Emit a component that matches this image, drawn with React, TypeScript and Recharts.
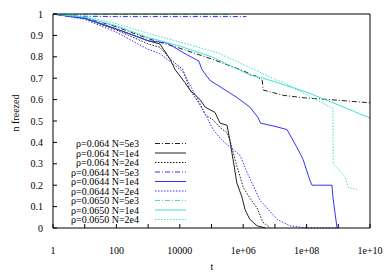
import { Line, LineChart, XAxis, YAxis } from "recharts";

const W = 390;
const H = 273;
const FONT = "'Liberation Serif', 'Times New Roman', Times, serif";

const xTicks = [1, 1e1, 1e2, 1e3, 1e4, 1e5, 1e6, 1e7, 1e8, 1e9, 1e10];
const xTickLabels = ["1", "", "100", "", "10000", "", "1e+06", "", "1e+08", "", "1e+10"];
const yTicks = [0, 0.1, 0.2, 0.3, 0.4, 0.5, 0.6, 0.7, 0.8, 0.9, 1];
const yTickLabels = ["0", "0.1", "0.2", "0.3", "0.4", "0.5", "0.6", "0.7", "0.8", "0.9", "1"];

// log10(t) and fraction frozen
const r064n5e3LogT = [0, 1, 2, 3, 4, 5, 6, 6.28, 6.4, 6.6, 6.63, 7.26, 8, 8.74, 10];
const r064n5e3N = [1, 0.985, 0.94, 0.885, 0.84, 0.79, 0.735, 0.715, 0.71, 0.69, 0.645, 0.62, 0.607, 0.6, 0.585];

const r064n1e4LogT = [0, 1, 2, 3, 3.37, 3.69, 3.85, 4.16, 4.32, 4.64, 4.8, 5.11, 5.27, 5.49, 5.58, 5.68, 5.8, 5.96, 6.06, 6.21, 6.44, 6.7];
const r064n1e4N = [1, 0.98, 0.93, 0.875, 0.86, 0.79, 0.74, 0.68, 0.645, 0.6, 0.565, 0.54, 0.49, 0.48, 0.41, 0.32, 0.21, 0.145, 0.085, 0.04, 0.01, 0];

const r064n2e4LogT = [0, 1, 2, 3, 3.37, 3.69, 4.1, 4.32, 4.64, 4.8, 5.05, 5.27, 5.49, 5.58, 5.8, 6.0, 6.21, 6.44, 6.62, 6.85];
const r064n2e4N = [1, 0.98, 0.925, 0.86, 0.845, 0.79, 0.74, 0.645, 0.575, 0.53, 0.505, 0.47, 0.445, 0.41, 0.29, 0.19, 0.14, 0.093, 0.028, 0];

const r0644n5e3LogT = [0, 0.5, 2, 4, 6.1];
const r0644n5e3N = [1, 0.99, 0.988, 0.988, 0.988];

const r0644n1e4LogT = [0, 1, 2, 3, 3.6, 4.1, 4.6, 4.7, 4.95, 5.27, 5.8, 6.21, 6.45, 6.55, 7.0, 7.38, 7.57, 7.79, 7.89, 8.11, 8.17, 8.8, 8.83, 8.96];
const r0644n1e4N = [1, 0.98, 0.93, 0.875, 0.865, 0.82, 0.78, 0.74, 0.69, 0.66, 0.61, 0.565, 0.52, 0.49, 0.475, 0.46, 0.41, 0.35, 0.32, 0.22, 0.2, 0.2, 0.145, 0];

const r0644n2e4LogT = [0, 1, 2, 3, 3.37, 4.1, 4.64, 5.05, 5.33, 5.65, 5.9, 6.12, 6.53, 7.07, 7.48, 8.0, 9.0];
const r0644n2e4N = [1, 0.975, 0.915, 0.835, 0.815, 0.73, 0.58, 0.46, 0.41, 0.37, 0.34, 0.26, 0.13, 0.04, 0.01, 0, 0];

const r0650n5e3LogT = [0, 5.6];
const r0650n5e3N = [0.998, 0.997];

const r0650n1e4LogT = [0, 1, 2, 3, 4, 5, 6, 6.21, 6.62, 7.07, 8, 9, 10];
const r0650n1e4N = [1, 0.985, 0.945, 0.89, 0.85, 0.8, 0.73, 0.715, 0.7, 0.68, 0.635, 0.575, 0.514];

const r0650n2e4LogT = [0, 1, 2, 3, 4.1, 5.17, 6.21, 7.07, 7.2, 8.74, 8.83, 8.84, 8.99, 9.21, 9.31, 9.59];
const r0650n2e4N = [1, 0.99, 0.955, 0.91, 0.865, 0.82, 0.75, 0.69, 0.685, 0.565, 0.56, 0.3, 0.276, 0.24, 0.19, 0.18];

const BLACK = "#222";
const BLUE = "#3333ff";
const CYAN = "#44e0cf";
const DASHDOT = "5 2 1 2";
const DOTTED = "1.5 1.5";

const toPoints = (logT: number[], n: number[]) => logT.map((l, i) => ({ t: 10 ** l, v: n[i] }));

const series = [
  { name: "ρ=0.064 N=5e3", data: toPoints(r064n5e3LogT, r064n5e3N), color: BLACK, dash: DASHDOT },
  { name: "ρ=0.064 N=1e4", data: toPoints(r064n1e4LogT, r064n1e4N), color: BLACK, dash: undefined },
  { name: "ρ=0.064 N=2e4", data: toPoints(r064n2e4LogT, r064n2e4N), color: BLACK, dash: DOTTED },
  { name: "ρ=0.0644 N=5e3", data: toPoints(r0644n5e3LogT, r0644n5e3N), color: BLUE, dash: DASHDOT },
  { name: "ρ=0.0644 N=1e4", data: toPoints(r0644n1e4LogT, r0644n1e4N), color: BLUE, dash: undefined },
  { name: "ρ=0.0644 N=2e4", data: toPoints(r0644n2e4LogT, r0644n2e4N), color: BLUE, dash: DOTTED },
  { name: "ρ=0.0650 N=5e3", data: toPoints(r0650n5e3LogT, r0650n5e3N), color: CYAN, dash: DASHDOT },
  { name: "ρ=0.0650 N=1e4", data: toPoints(r0650n1e4LogT, r0650n1e4N), color: CYAN, dash: undefined },
  { name: "ρ=0.0650 N=2e4", data: toPoints(r0650n2e4LogT, r0650n2e4N), color: CYAN, dash: DOTTED },
];

const tickStyle = { fill: "#000", fontSize: 10, style: { fontFamily: FONT } };

export default function App() {
  return (
    <div
      style={{
        position: "absolute",
        left: 0,
        top: 0,
        width: W,
        height: H,
        background: "#fff",
        fontFamily: FONT,
      }}
    >
      <LineChart width={W} height={H} margin={{ top: 0, right: 0, bottom: 0, left: 0 }} style={{ fontFamily: FONT }}>
        <XAxis
          xAxisId="b"
          dataKey="t"
          type="number"
          scale="log"
          domain={[1, 1e10]}
          allowDataOverflow
          ticks={xTicks}
          tickFormatter={(v: number) => xTickLabels[xTicks.indexOf(v)] ?? ""}
          tickSize={-4}
          tickMargin={23}
          height={45}
          stroke="#000"
          tick={tickStyle}
          interval={0}
        />
        <XAxis
          xAxisId="top"
          orientation="top"
          type="number"
          scale="log"
          domain={[1, 1e10]}
          allowDataOverflow
          ticks={xTicks}
          tickFormatter={() => ""}
          tickSize={-4}
          height={14}
          stroke="#000"
          interval={0}
        />
        <YAxis
          yAxisId="l"
          type="number"
          domain={[0, 1]}
          ticks={yTicks}
          tickFormatter={(v: number) => yTickLabels[yTicks.indexOf(v)] ?? ""}
          tickSize={-4}
          tickMargin={14}
          width={53}
          stroke="#000"
          tick={tickStyle}
          interval={0}
        />
        <YAxis
          yAxisId="r"
          orientation="right"
          type="number"
          domain={[0, 1]}
          ticks={yTicks}
          tickFormatter={() => ""}
          tickSize={-4}
          width={20}
          stroke="#000"
          interval={0}
        />
        {series.map((s) => (
          <Line
            key={s.name}
            xAxisId="b"
            yAxisId="l"
            data={s.data}
            dataKey="v"
            type="linear"
            stroke={s.color}
            strokeWidth={1}
            strokeDasharray={s.dash}
            dot={false}
            isAnimationActive={false}
          />
        ))}
      </LineChart>
      <svg
        width={W}
        height={H}
        style={{ position: "absolute", left: 0, top: 0, pointerEvents: "none", fontFamily: FONT, fontSize: 10 }}
      >
        <text x={15} y={113} transform="rotate(-90 15 113)" textAnchor="middle" dominantBaseline="central">
          n freezed
        </text>
        <text x={212} y={270} textAnchor="middle">
          t
        </text>
        {series.map((s, i) => {
          const y = 143.5 + i * 9.5;
          return (
            <g key={s.name}>
              <text x={139} y={y} textAnchor="end" dominantBaseline="central">
                {s.name}
              </text>
              <line x1={155} x2={186} y1={y} y2={y} stroke={s.color} strokeDasharray={s.dash} />
            </g>
          );
        })}
      </svg>
    </div>
  );
}
